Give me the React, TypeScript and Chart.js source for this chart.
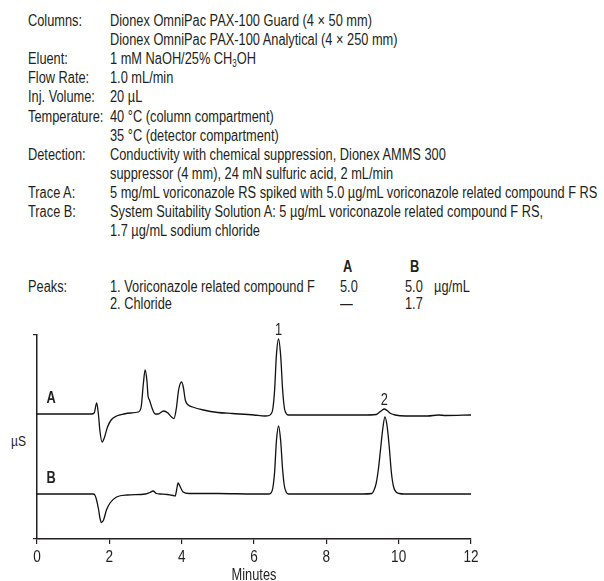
import React, { useEffect, useRef } from "react";
import { Chart, registerables } from "chart.js";

Chart.register(...registerables);

const FONT = "'Liberation Sans', Arial, sans-serif";
const INK = "#231f20";
const NARROW = 0.8;

// ---- Conditions text ----
const conditionLabels = [
  "Columns:", "", "Eluent:", "Flow Rate:", "Inj. Volume:", "Temperature:", "",
  "Detection:", "", "Trace A:", "Trace B:", "",
];
const conditionValues = [
  "Dionex OmniPac PAX-100 Guard (4 × 50 mm)",
  "Dionex OmniPac PAX-100 Analytical (4 × 250 mm)",
  "1 mM NaOH/25% CH_3OH",
  "1.0 mL/min",
  "20 µL",
  "40 °C (column compartment)",
  "35 °C (detector compartment)",
  "Conductivity with chemical suppression, Dionex AMMS 300",
  "suppressor (4 mm), 24 mN sulfuric acid, 2 mL/min",
  "5 mg/mL voriconazole RS spiked with 5.0 µg/mL voriconazole related compound F RS",
  "System Suitability Solution A: 5 µg/mL voriconazole related compound F RS,",
  "1.7 µg/mL sodium chloride",
];

// ---- Peaks table ----
const peakNames = ["1. Voriconazole related compound F", "2. Chloride"];
const peakConcA = ["5.0", "—"];
const peakConcB = ["5.0", "1.7"];
const concUnit = "µg/mL";

// ---- Peak labels on chromatogram ----
const peakNumbers = ["1", "2"];
const peakTimes = [6.68, 9.6];
const traceNames = ["A", "B"];
const xTitle = "Minutes";
const yTitle = "µS";

// ---- Axis ----
const xMin = 0;
const xMax = 12;
const xStep = 2;
const yMin = 0;
const yMax = 204;

// ---- Trace A (minutes, signal) ----
const traceATime = [
  0, 1.5, 1.58, 1.65, 1.7, 1.74, 1.8, 1.86, 1.95, 2.05, 2.2, 2.4, 2.6, 2.8, 2.88, 2.94, 2.99,
  3.04, 3.07, 3.11, 3.18, 3.27, 3.35, 3.5, 3.62, 3.72, 3.79, 3.85, 3.92, 4.0, 4.05, 4.1, 4.18,
  4.3, 4.6, 5.0, 5.4, 6.0, 6.3, 6.42, 6.47, 6.52, 6.57, 6.62, 6.68, 6.74, 6.79, 6.84, 6.89,
  6.95, 7.2, 8.0, 9.0, 9.38, 9.46, 9.53, 9.6, 9.68, 9.78, 9.9, 10.2, 10.8, 11.1, 11.3, 12.0,
];
const traceAValue = [
  125, 125, 126, 136, 124, 108, 97, 101, 112, 119, 123, 125, 126, 127, 132, 155, 169,
  158, 143, 139, 131, 125, 125, 128, 126, 122, 120.5, 130, 150, 157, 151, 139, 134,
  132, 129, 126.5, 125.5, 124, 123, 123.5, 125, 130, 149, 184, 200, 182, 150, 131, 125.5,
  124, 124, 124, 124, 124.5, 126.5, 128.5, 130, 128.5, 125.5, 124, 123, 123, 124, 123.5, 124,
];

// ---- Trace B (minutes, signal) ----
const traceBTime = [
  0, 1.55, 1.6, 1.64, 1.7, 1.74, 1.78, 1.84, 1.92, 2.02, 2.2, 2.5, 3.0, 3.12, 3.21, 3.3, 3.4,
  3.6, 3.76, 3.82, 3.86, 3.9, 3.95, 4.04, 4.2, 5.0, 6.0, 6.42, 6.47, 6.52, 6.57, 6.62, 6.68,
  6.74, 6.79, 6.84, 6.89, 6.95, 7.5, 9.0, 9.26, 9.32, 9.38, 9.44, 9.5, 9.56, 9.62, 9.68, 9.74,
  9.8, 9.86, 9.93, 10.02, 10.15, 11.0, 12.0,
];
const traceBValue = [
  45, 45, 44, 40, 30, 21, 16.5, 19, 29, 36, 42, 44, 45, 46.5, 48, 45.5, 45,
  44.5, 43.5, 43, 49, 56, 53, 47, 45.5, 45.5, 45, 45, 46, 51, 67, 98, 113,
  97, 70, 53, 47, 45, 45, 45, 45.5, 49, 56, 70, 90, 110, 122, 113, 92,
  66, 52, 47, 45.5, 45, 45, 45,
];

const toPoints = (t: number[], v: number[]) => t.map((x, i) => ({ x, y: v[i] }));

function renderValue(s: string) {
  const parts = s.split("_3");
  if (parts.length === 1) return s;
  return (
    <>
      {parts[0]}
      <sub style={{ fontSize: 10, verticalAlign: "-3px", lineHeight: 0 }}>3</sub>
      {parts[1]}
    </>
  );
}

function narrowText(ctx: CanvasRenderingContext2D, text: string, x: number, y: number) {
  ctx.save();
  ctx.translate(x, y);
  ctx.scale(NARROW, 1);
  ctx.textAlign = "center";
  ctx.textBaseline = "alphabetic";
  ctx.fillText(text, 0, 0);
  ctx.restore();
}

const labelPlugin = {
  id: "traceLabels",
  afterDraw(chart: any) {
    const { ctx, scales, chartArea } = chart;
    const x = scales.x;
    const y = scales.y;
    ctx.save();
    ctx.fillStyle = INK;
    // tick labels from the x scale's own ticks
    ctx.font = `17px ${FONT}`;
    x.ticks.forEach((t: any) => {
      narrowText(ctx, String(t.value), x.getPixelForValue(t.value), chartArea.bottom + 22.5);
    });
    // axis title
    ctx.font = `16px ${FONT}`;
    narrowText(ctx, xTitle, (chartArea.left + chartArea.right) / 2, chartArea.bottom + 41);
    // peak numbers over trace A
    ctx.font = `16px ${FONT}`;
    peakNumbers.forEach((lab, i) => {
      const t = peakTimes[i];
      let best = -Infinity;
      traceATime.forEach((tt, j) => {
        if (Math.abs(tt - t) < 0.15) best = Math.max(best, traceAValue[j]);
      });
      narrowText(ctx, lab, x.getPixelForValue(t), y.getPixelForValue(best) - 4);
    });
    // trace names
    ctx.font = `bold 16px ${FONT}`;
    narrowText(ctx, traceNames[0], chartArea.left + 14, y.getPixelForValue(traceAValue[0]) - 11);
    narrowText(ctx, traceNames[1], chartArea.left + 14, y.getPixelForValue(traceBValue[0]) - 11);
    ctx.restore();
  },
};

export default function App() {
  const canvasRef = useRef<HTMLCanvasElement | null>(null);

  useEffect(() => {
    if (!canvasRef.current) return;
    const chart = new Chart(canvasRef.current, {
      type: "line",
      data: {
        datasets: [
          {
            label: traceNames[0],
            data: toPoints(traceATime, traceAValue),
            borderColor: "#111",
            borderWidth: 1.3,
            pointRadius: 0,
            fill: false,
            cubicInterpolationMode: "monotone",
          },
          {
            label: traceNames[1],
            data: toPoints(traceBTime, traceBValue),
            borderColor: "#111",
            borderWidth: 1.3,
            pointRadius: 0,
            fill: false,
            cubicInterpolationMode: "monotone",
          },
        ],
      },
      options: {
        animation: false,
        responsive: false,
        layout: { padding: { left: 33, right: 133, top: 25, bottom: 0 } },
        plugins: {
          legend: { display: false },
          tooltip: { enabled: false },
          title: { display: false },
        },
        scales: {
          x: {
            type: "linear",
            min: xMin,
            max: xMax,
            afterFit: (s: any) => {
              s.height = 42;
            },
            ticks: {
              stepSize: xStep,
              display: false,
              autoSkip: false,
            },
            grid: { drawOnChartArea: false, drawTicks: true, tickLength: 5, color: INK, lineWidth: 1.2 },
            border: { display: true, color: INK, width: 1.5 },
            title: { display: false },
          },
          y: {
            type: "linear",
            min: yMin,
            max: yMax,
            afterFit: (s: any) => {
              s.width = 4;
            },
            afterBuildTicks: (s: any) => {
              s.ticks = [{ value: yMin }, { value: yMax }];
            },
            ticks: { display: false },
            grid: { drawOnChartArea: false, drawTicks: true, tickLength: 4, color: INK, lineWidth: 1.2 },
            border: { display: true, color: INK, width: 1.5 },
          },
        },
      },
      plugins: [labelPlugin],
    } as any);
    return () => chart.destroy();
  }, []);

  const textStyle: React.CSSProperties = {
    position: "absolute",
    fontSize: 16,
    lineHeight: "19px",
    whiteSpace: "nowrap",
    transform: `scaleX(${NARROW})`,
    transformOrigin: "left center",
  };

  return (
    <div
      style={{
        position: "absolute",
        left: 0,
        top: 0,
        width: 604,
        height: 581,
        background: "#fff",
        color: INK,
        fontFamily: FONT,
        overflow: "hidden",
      }}
    >
      {conditionLabels.map((lab, i) => (
        <React.Fragment key={i}>
          {lab && <div style={{ ...textStyle, left: 28, top: 11 + i * 19.1 }}>{lab}</div>}
          <div style={{ ...textStyle, left: 110, top: 11 + i * 19.1 }}>{renderValue(conditionValues[i])}</div>
        </React.Fragment>
      ))}

      <div style={{ ...textStyle, left: 343, top: 256.5, fontWeight: "bold" }}>{traceNames[0]}</div>
      <div style={{ ...textStyle, left: 410, top: 256.5, fontWeight: "bold" }}>{traceNames[1]}</div>
      <div style={{ ...textStyle, left: 28, top: 276.5 }}>Peaks:</div>
      {peakNames.map((n, i) => (
        <React.Fragment key={n}>
          <div style={{ ...textStyle, left: 110, top: 276.5 + i * 17.5 }}>{n}</div>
          <div style={{ ...textStyle, left: 340, top: 276.5 + i * 17.5 }}>{peakConcA[i]}</div>
          <div style={{ ...textStyle, left: 405, top: 276.5 + i * 17.5 }}>{peakConcB[i]}</div>
          {i === 0 && <div style={{ ...textStyle, left: 434, top: 276.5 }}>{concUnit}</div>}
        </React.Fragment>
      ))}

      <div style={{ ...textStyle, left: 11, top: 430.5, fontSize: 15 }}>{yTitle}</div>

      <div style={{ position: "absolute", left: 0, top: 310, width: 604, height: 271 }}>
        <canvas ref={canvasRef} width={604} height={271} style={{ display: "block" }} />
      </div>
    </div>
  );
}
